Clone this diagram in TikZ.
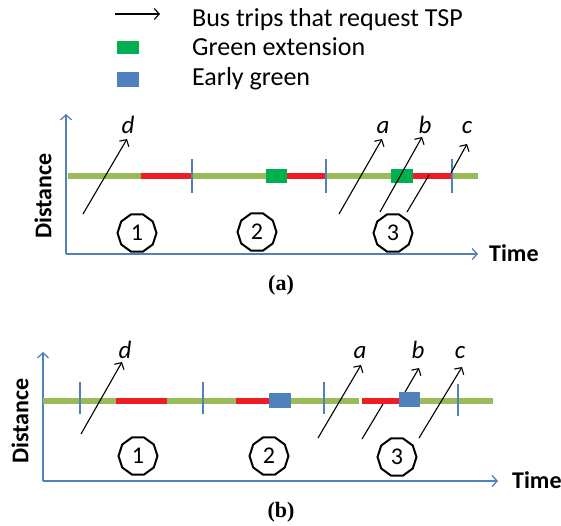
\documentclass[tikz,border=0pt]{standalone}
\usepackage{fontspec}
\setmainfont{Carlito}
\newfontfamily\capfont{Liberation Serif}
\usetikzlibrary{arrows.meta,shapes.geometric}
\definecolor{axisblue}{HTML}{4F81BD}
\definecolor{bargreen}{HTML}{9BBB59}
\definecolor{barred}{HTML}{EE1C25}
\definecolor{extgreen}{HTML}{00B050}
\definecolor{earlyblue}{HTML}{4F81BD}
\begin{document}
\begin{tikzpicture}[
  x=1pt, y=-1pt,
  >={Straight Barb[length=5pt,width=11pt]},
  sigaxis/.style={->, draw=axisblue, line width=1.3pt},
  sigtick/.style={draw=axisblue, line width=1.2pt},
  greenseg/.style={draw=bargreen, line width=6pt},
  redseg/.style={draw=barred, line width=6pt},
  extbox/.style={rectangle, fill=extgreen, minimum width=21pt, minimum height=14pt, inner sep=0pt},
  earlybox/.style={rectangle, fill=earlyblue, minimum width=21pt, minimum height=15pt, inner sep=0pt},
  trip/.style={->, draw=black, line width=1.1pt},
  tripstop/.style={draw=black, line width=1.1pt},
  triplbl/.style={font={\fontsize{25}{30}\selectfont\itshape}, anchor=base, inner sep=0pt},
  phase/.style={regular polygon, regular polygon sides=10, draw=black, line width=2pt, minimum size=39pt, inner sep=0pt, font={\fontsize{24}{28}\selectfont}},
  axlbl/.style={font={\fontsize{24}{28}\selectfont\bfseries}, inner sep=0pt},
  leglbl/.style={font={\fontsize{26}{30}\selectfont}, anchor=base west, inner sep=0pt},
  caplbl/.style={font={\fontsize{22}{26}\selectfont\capfont\bfseries}, inner sep=0pt}
]
\useasboundingbox (0,0) rectangle (561,525);
% legend
\coordinate (legs) at (115,14);
\coordinate (lege) at (160,14);
\draw[trip] (legs) -- (lege);
\node[leglbl] (legtrip) at (192,26) {Bus trips that request TSP};
\node[extbox, minimum width=22pt, minimum height=13pt] (legext) at (128,47.5) {};
\node[leglbl] (legexttxt) at (192,55) {Green extension};
\node[earlybox, minimum width=22pt] (legearly) at (128,79.5) {};
\node[leglbl] (legearlytxt) at (192,85) {Early green};
% panel (a)
\coordinate (ao) at (66,254);
\coordinate (ay) at (66,114);
\coordinate (ax) at (478,254);
\draw[sigaxis] (ao) -- (ay);
\draw[sigaxis] (ao) -- (ax);
\node[axlbl, rotate=90] (adist) at (43,196) {Distance};
\node[axlbl, anchor=base west] (atime) at (489,261) {Time};
\draw[greenseg] (68,176) -- (478,176);
\draw[redseg] (141,176) -- (191,176);
\draw[redseg] (287,176) -- (326,176);
\draw[redseg] (413,176) -- (451,176);
\node[extbox] (aext1) at (276.5,175.5) {};
\node[extbox, minimum width=22pt] (aext2) at (402,176) {};
\draw[sigtick] (192,159) -- (192,193);
\draw[sigtick] (326,159) -- (326,193);
\draw[sigtick] (452,159) -- (452,193);
\coordinate (ad0) at (83,214);
\coordinate (ad1) at (127,139);
\coordinate (aa0) at (339,214);
\coordinate (aa1) at (382,139);
\coordinate (ab0) at (380,212);
\coordinate (ab1) at (422,137);
\coordinate (ac0) at (407,212);
\coordinate (acs) at (429,175);
\coordinate (acg) at (451,173);
\coordinate (ac1) at (467,144);
\draw[trip] (ad0) -- (ad1);
\draw[trip] (aa0) -- (aa1);
\draw[trip] (ab0) -- (ab1);
\draw[tripstop] (ac0) -- (acs);
\draw[trip] (acg) -- (ac1);
\node[triplbl] (ald) at (128,133) {d};
\node[triplbl] (ala) at (383,133) {a};
\node[triplbl] (alb) at (425,133) {b};
\node[triplbl] (alc) at (467,133) {c};
\node[phase] (ap1) at (137,233) {1};
\node[phase] (ap2) at (257,232) {2};
\node[phase] (ap3) at (393,233) {3};
\node[caplbl] (acap) at (281,285) {(a)};
% panel (b)
\coordinate (bo) at (43,481);
\coordinate (by) at (43,352);
\coordinate (bx) at (498,481);
\draw[sigaxis] (bo) -- (by);
\draw[sigaxis] (bo) -- (bx);
\node[axlbl, rotate=90] (bdist) at (20,421) {Distance};
\node[axlbl, anchor=base west] (btime) at (512,488) {Time};
\draw[greenseg] (43,401) -- (359,401);
\draw[greenseg] (362,401) -- (493,401);
\draw[redseg] (116,401) -- (167,401);
\draw[redseg] (236,401) -- (269,401);
\draw[redseg] (362,401) -- (399,401);
\node[earlybox, minimum width=22pt] (bearly1) at (280,400.5) {};
\node[earlybox] (bearly2) at (409.5,399) {};
\draw[sigtick] (80,382) -- (80,414);
\draw[sigtick] (203,382) -- (203,414);
\draw[sigtick] (324,382) -- (324,414);
\draw[sigtick] (458,384) -- (458,416);
\coordinate (bd0) at (81,434);
\coordinate (bd1) at (122,362);
\coordinate (ba0) at (318,438);
\coordinate (ba1) at (361,365);
\coordinate (bb0) at (362,439);
\coordinate (bbs) at (383,404);
\coordinate (bbg) at (405,392);
\coordinate (bb1) at (419,368);
\coordinate (bc0) at (419,438);
\coordinate (bc1) at (462,367);
\draw[trip] (bd0) -- (bd1);
\draw[trip] (ba0) -- (ba1);
\draw[tripstop] (bb0) -- (bbs);
\draw[trip] (bbg) -- (bb1);
\draw[trip] (bc0) -- (bc1);
\node[triplbl] (bld) at (125,358) {d};
\node[triplbl] (bla) at (360,358) {a};
\node[triplbl] (blb) at (418,358) {b};
\node[triplbl] (blc) at (460,358) {c};
\node[phase] (bp1) at (138,456) {1};
\node[phase] (bp2) at (269,456) {2};
\node[phase] (bp3) at (397,457) {3};
\node[caplbl] (bcap) at (281,512) {(b)};
\end{tikzpicture}
\end{document}
